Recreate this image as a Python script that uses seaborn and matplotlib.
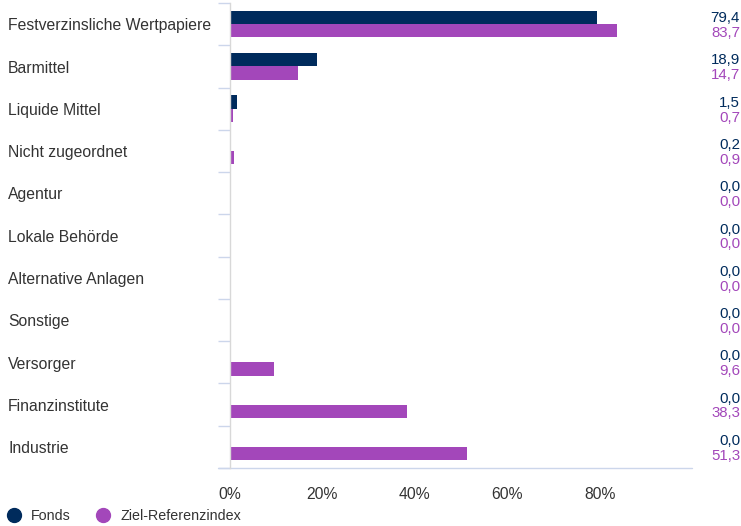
import pandas as pd
import numpy as np
import matplotlib
matplotlib.use("Agg")
import matplotlib.pyplot as plt
import matplotlib.transforms as mtransforms
from matplotlib.lines import Line2D
import seaborn as sns

# --- Data ---
categories = ["Festverzinsliche Wertpapiere", "Barmittel", "Liquide Mittel",
              "Nicht zugeordnet", "Agentur", "Lokale Behörde",
              "Alternative Anlagen", "Sonstige", "Versorger",
              "Finanzinstitute", "Industrie"]
fonds = [79.4, 18.9, 1.5, 0.2, 0.0, 0.0, 0.0, 0.0, 0.0, 0.0, 0.0]
referenz = [83.7, 14.7, 0.7, 0.9, 0.0, 0.0, 0.0, 0.0, 9.6, 38.3, 51.3]
series_names = ["Fonds", "Ziel-Referenzindex"]
x_ticks = [0, 20, 40, 60, 80]

# --- Style ---
C_FONDS = "#002b5c"
C_REF = "#a347ba"
TEXT = "#333333"
W, H = 741, 526

sns.set_style("white")
plt.rcParams["font.family"] = ["Liberation Sans", "DejaVu Sans"]

df = pd.DataFrame({
    "Kategorie": categories * 2,
    "Wert": fonds + referenz,
    "Serie": [series_names[0]] * len(categories) + [series_names[1]] * len(categories),
})

fig = plt.figure(figsize=(W / 100, H / 100), dpi=100)
ax = fig.add_axes([230 / W, (H - 468) / H, (692 - 230) / W, (468 - 3) / H])

sns.barplot(data=df, y="Kategorie", x="Wert", hue="Serie", orient="h",
            palette=[C_FONDS, C_REF], width=0.63, saturation=1,
            legend=False, ax=ax)
for p in ax.patches:
    p.set_linewidth(0)

ax.set_xlim(0, 100)
ax.set_ylim(len(categories) - 0.5, -0.5)
ax.set_xlabel("")
ax.set_ylabel("")

# x ticks
ax.set_xticks(x_ticks)
ax.set_xticklabels([f"{t}%" for t in x_ticks], fontsize=11.3, color=TEXT)
ax.tick_params(axis="x", length=0, pad=14)

# y ticks at band boundaries, labels drawn as text left-aligned
ax.set_yticks(np.arange(len(categories) + 1) - 0.5)
ax.set_yticklabels([])
ax.tick_params(axis="y", length=8.6, width=1, color="#ccd6eb", left=True)

blend = mtransforms.blended_transform_factory(ax.transAxes, ax.transData)
axw = 692 - 230
for i, cat in enumerate(categories):
    ax.text((8 - 230) / axw, i + 0.04, cat, transform=blend, ha="left", va="center",
            fontsize=11.3, color=TEXT)
    ax.text((740 - 230) / axw, i - 0.14, f"{fonds[i]:.1f}".replace(".", ","),
            transform=blend, ha="right", va="center", fontsize=10.8, color=C_FONDS)
    ax.text((740 - 230) / axw, i + 0.21, f"{referenz[i]:.1f}".replace(".", ","),
            transform=blend, ha="right", va="center", fontsize=10.8, color=C_REF)

# spines
for s in ["top", "right", "bottom"]:
    ax.spines[s].set_visible(False)
ax.spines["left"].set_color("#d8d8d8")
ax.spines["left"].set_linewidth(1)
ax.plot([-12 / axw, 1], [0, 0], transform=ax.transAxes, color="#ccd6eb",
        lw=1, clip_on=False)

# legend
handles = [Line2D([], [], marker="o", ls="", color=C_FONDS, markersize=10),
           Line2D([], [], marker="o", ls="", color=C_REF, markersize=10)]
fig.legend(handles, series_names, loc="center left",
           bbox_to_anchor=(5 / W, 10 / H),
           ncol=2, frameon=False, fontsize=10.3, handletextpad=0.6,
           columnspacing=1.7, borderaxespad=0, borderpad=0, labelcolor=TEXT,
           handlelength=1.2)

fig.savefig("out.png", dpi=100)
